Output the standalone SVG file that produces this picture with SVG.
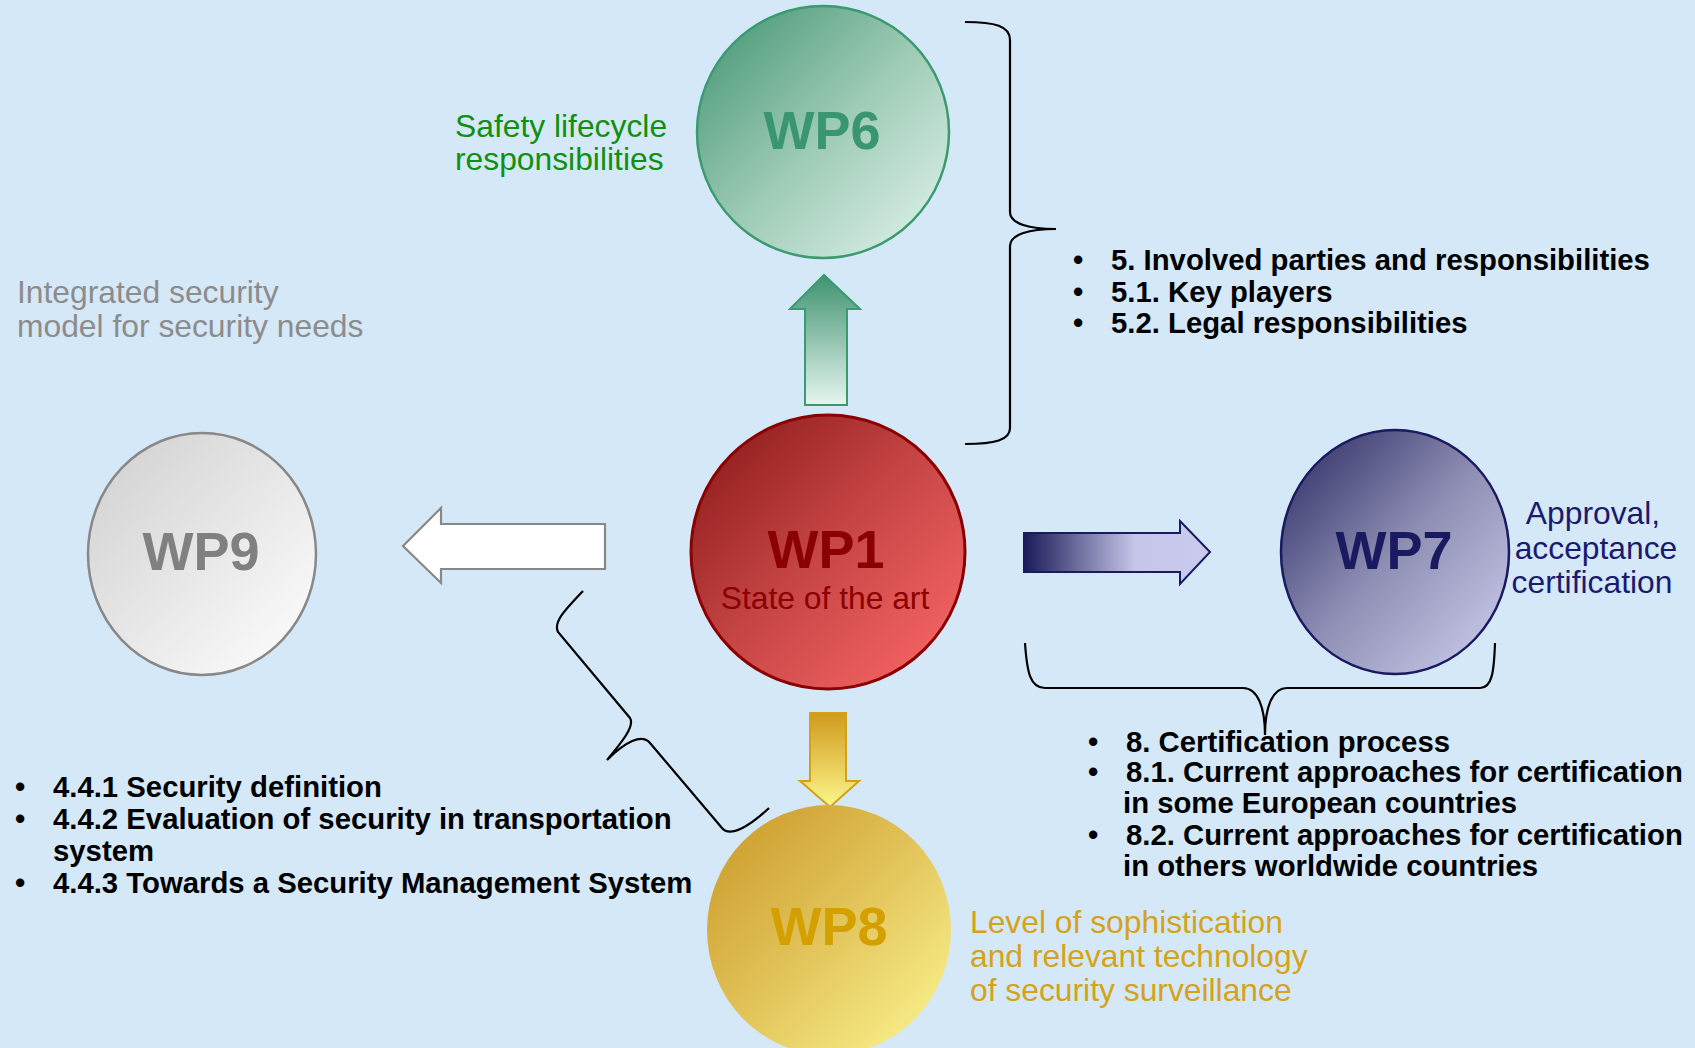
<svg xmlns="http://www.w3.org/2000/svg" width="1695" height="1048" viewBox="0 0 1695 1048">
<style>
text{font-family:"Liberation Sans",Arial,sans-serif}
.wp{font-weight:bold;font-size:54px;text-anchor:middle}
.lab{font-size:31.8px}
.bul{font-size:29.3px;font-weight:bold;fill:#000}
.brace{fill:none;stroke:#000;stroke-width:2.2}
</style>
<defs>
<linearGradient id="gG" x1="0" y1="0" x2="1" y2="1"><stop offset="0" stop-color="#3f9270"/><stop offset="0.5" stop-color="#9ccab4"/><stop offset="1" stop-color="#e4f6ee"/></linearGradient>
<linearGradient id="gR" x1="0" y1="0" x2="1" y2="1"><stop offset="0" stop-color="#851515"/><stop offset="0.5" stop-color="#c84646"/><stop offset="1" stop-color="#ff6a6a"/></linearGradient>
<linearGradient id="gN" x1="0" y1="0" x2="1" y2="1"><stop offset="0" stop-color="#262660"/><stop offset="0.5" stop-color="#8e8eb4"/><stop offset="1" stop-color="#d2d2f2"/></linearGradient>
<linearGradient id="gW" x1="0" y1="0" x2="1" y2="1"><stop offset="0" stop-color="#cfcfcf"/><stop offset="1" stop-color="#ffffff"/></linearGradient>
<linearGradient id="gY" x1="0" y1="0" x2="1" y2="1"><stop offset="0" stop-color="#c99625"/><stop offset="0.5" stop-color="#e2c45a"/><stop offset="1" stop-color="#fdf894"/></linearGradient>
<linearGradient id="aG" x1="0" y1="0" x2="0" y2="1"><stop offset="0" stop-color="#3f9270"/><stop offset="1" stop-color="#e6f6ef"/></linearGradient>
<linearGradient id="aY" x1="0" y1="0" x2="0" y2="1"><stop offset="0" stop-color="#d09a1c"/><stop offset="1" stop-color="#fbf78c"/></linearGradient>
<linearGradient id="aN" x1="0" y1="0" x2="1" y2="0"><stop offset="0" stop-color="#1a1a58"/><stop offset="0.6" stop-color="#c6c6ea"/><stop offset="1" stop-color="#cacaee"/></linearGradient>
</defs>
<rect width="1695" height="1048" fill="#d5e8f7"/>

<g id="connectors">
<path id="arrow-wp6" d="M805 405 L805 309 L790 309 L824 275 L860 309 L847 309 L847 405 Z" fill="url(#aG)" stroke="#3a9a70" stroke-width="2"/>
<path id="arrow-wp8" d="M810 713 L846 713 L846 781 L859 781 L830 807 L800 781 L810 781 Z" fill="url(#aY)" stroke="#d4a017" stroke-width="2"/>
<path id="arrow-wp7" d="M1024 533 L1180 533 L1180 521 L1210 552 L1180 584 L1180 572 L1024 572 Z" fill="url(#aN)" stroke="#1a1a60" stroke-width="2"/>
<path id="arrow-wp9" d="M605 524 L441 524 L441 508 L403 546 L441 583 L441 569 L605 569 Z" fill="#ffffff" stroke="#888888" stroke-width="2.2"/>
<path id="brace-wp6" class="brace" d="M965 22 C995 22 1010 26 1010 40 L1010 212 C1010 224 1030 229 1056 229 C1030 229 1010 234 1010 246 L1010 428 C1010 440 995 444 965 444"/>
<path id="brace-wp7" class="brace" d="M1025 643 C1027 672 1030 688 1045 688 L1243 688 C1258 688 1265 708 1265 735 C1265 708 1272 688 1287 688 L1480 688 C1492 688 1494 672 1495 643"/>
<path id="brace-wp8" class="brace" d="M583 591 C565 610 553 622 558 632 L630 718 C635 726 622 742 607 760 C625 742 642 733 650 743 L722 828 C730 838 750 826 769 808"/>
</g>

<g id="wp6">
<circle cx="823" cy="132" r="126" fill="url(#gG)" stroke="#3a9a70" stroke-width="2.5"/>
<text class="wp" x="822" y="149" fill="#3a9670">WP6</text>
<text class="lab" fill="#109010"><tspan x="455" y="137">Safety lifecycle</tspan><tspan x="455" y="170">responsibilities</tspan></text>
</g>

<g id="wp1">
<circle cx="828" cy="552" r="137" fill="url(#gR)" stroke="#8b0000" stroke-width="3"/>
<text class="wp" x="826" y="568" fill="#8b0000">WP1</text>
<text x="825" y="609" fill="#8b0000" font-size="31.8" text-anchor="middle">State of the art</text>
</g>

<g id="wp7">
<ellipse cx="1395" cy="552" rx="114" ry="122" fill="url(#gN)" stroke="#1a1a60" stroke-width="2.5"/>
<text class="wp" x="1394" y="569" fill="#1a1a60">WP7</text>
<text class="lab" fill="#1a1a6e" text-anchor="middle"><tspan x="1593" y="524">Approval,</tspan><tspan x="1596" y="559">acceptance</tspan><tspan x="1592" y="593">certification</tspan></text>
</g>

<g id="wp9">
<ellipse cx="202" cy="554" rx="114" ry="121" fill="url(#gW)" stroke="#888888" stroke-width="2.5"/>
<text class="wp" x="201" y="570" fill="#808080">WP9</text>
<text class="lab" fill="#8c8c8c"><tspan x="17" y="303">Integrated security</tspan><tspan x="17" y="337">model for security needs</tspan></text>
</g>

<g id="wp8">
<ellipse cx="829" cy="930" rx="122" ry="125" fill="url(#gY)"/>
<text class="wp" x="829" y="945" fill="#d4a000">WP8</text>
<text class="lab" fill="#d4a317"><tspan x="970" y="933">Level of sophistication</tspan><tspan x="970" y="967">and relevant technology</tspan><tspan x="970" y="1001">of security surveillance</tspan></text>
</g>

<g id="list-wp6">
<text class="bul"><tspan x="1073" y="270">•</tspan><tspan x="1111" y="270">5. Involved parties and responsibilities</tspan></text>
<text class="bul"><tspan x="1073" y="302">•</tspan><tspan x="1111" y="302">5.1. Key players</tspan></text>
<text class="bul"><tspan x="1073" y="333">•</tspan><tspan x="1111" y="333">5.2. Legal responsibilities</tspan></text>
</g>

<g id="list-wp7">
<text class="bul"><tspan x="1088" y="752">•</tspan><tspan x="1126" y="752">8. Certification process</tspan></text>
<text class="bul"><tspan x="1088" y="782">•</tspan><tspan x="1126" y="782">8.1. Current approaches for certification</tspan></text>
<text class="bul"><tspan x="1123" y="813">in some European countries</tspan></text>
<text class="bul"><tspan x="1088" y="845">•</tspan><tspan x="1126" y="845">8.2. Current approaches for certification</tspan></text>
<text class="bul"><tspan x="1123" y="876">in others worldwide countries</tspan></text>
</g>

<g id="list-wp8">
<text class="bul"><tspan x="15" y="797">•</tspan><tspan x="53" y="797">4.4.1 Security definition</tspan></text>
<text class="bul"><tspan x="15" y="829">•</tspan><tspan x="53" y="829">4.4.2 Evaluation of security in transportation</tspan></text>
<text class="bul"><tspan x="53" y="861">system</tspan></text>
<text class="bul"><tspan x="15" y="893">•</tspan><tspan x="53" y="893">4.4.3 Towards a Security Management System</tspan></text>
</g>
</svg>
